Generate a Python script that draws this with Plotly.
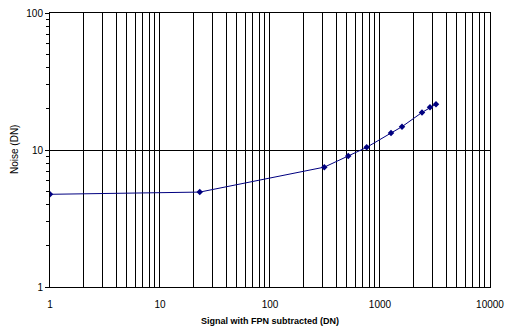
import plotly.graph_objects as go

signal = [1, 23, 312, 515, 757, 1259, 1585, 2410, 2848, 3230]
noise = [4.75, 4.93, 7.5, 9.04, 10.46, 13.3, 14.8, 18.8, 20.5, 21.6]

x_tickvals = [m * 10 ** d for d in range(4) for m in range(1, 10)] + [10000]
x_ticktext = [str(v) if str(v).strip("0") == "1" else "" for v in x_tickvals]
y_tickvals = [1, 10, 100]
y_ticktext = ["1", "10", "100"]
y_minorvals = [m * 10 ** d for d in range(2) for m in range(2, 10)]

fig = go.Figure(go.Scatter(
    x=signal, y=noise, mode="lines+markers",
    line=dict(color="#000080", width=1),
    marker=dict(symbol="diamond", size=5, color="#000080"),
))

font = dict(family="Liberation Sans, Arial, sans-serif", size=10, color="black")
fig.update_layout(
    width=505, height=334,
    margin=dict(l=50, r=15, t=13, b=47),
    paper_bgcolor="white", plot_bgcolor="white",
    showlegend=False, font=font,
    annotations=[
        dict(text="<b>Signal with FPN subtracted (DN)</b>", xref="paper", yref="paper",
             x=0.5, y=0, yshift=-34, showarrow=False, font=dict(size=9),
             xanchor="center", yanchor="middle"),
        dict(text="Noise (DN)", xref="paper", yref="paper", x=0, xshift=-36,
             y=0.5, textangle=-90, showarrow=False, font=dict(size=10),
             xanchor="center", yanchor="middle"),
    ],
)
fig.update_xaxes(
    type="log", range=[0, 4.0002], automargin=False,
    tickmode="array", tickvals=x_tickvals, ticktext=x_ticktext,
    showgrid=True, gridcolor="black", gridwidth=1,
    showline=True, linecolor="black", linewidth=1, mirror=True,
    ticks="", zeroline=False, ticklabelstandoff=8,
    ticklabeloverflow="allow",
    tickfont=dict(size=10),
)
fig.update_yaxes(
    type="log", range=[0, 2.0002], automargin=False,
    tickmode="array", tickvals=y_tickvals, ticktext=y_ticktext,
    showgrid=True, gridcolor="black", gridwidth=1,
    showline=True, linecolor="black", linewidth=1, mirror=True,
    ticks="outside", ticklen=4, tickcolor="black",
    ticklabeloverflow="allow",
    minor=dict(tickmode="array", tickvals=y_minorvals, ticks="outside", ticklen=3,
               tickcolor="black", showgrid=False),
    zeroline=False,
    tickfont=dict(size=10),
)
fig.write_html("out.html", config={"displayModeBar": False},
               post_script="document.body.style.margin='0';document.body.style.overflow='hidden';")
